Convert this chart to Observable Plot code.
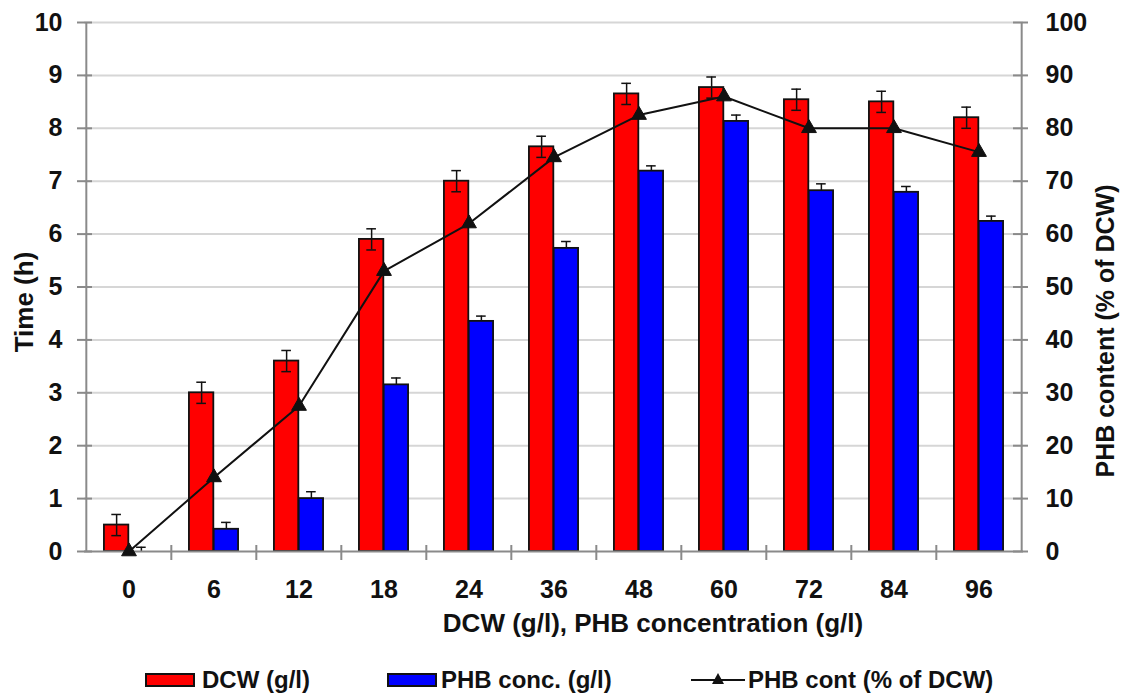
<!DOCTYPE html>
<html><head><meta charset="utf-8">
<script src="https://cdn.jsdelivr.net/npm/d3@7"></script>
<script src="https://cdn.jsdelivr.net/npm/@observablehq/plot@0.6"></script>
<style>
body{margin:0;background:#fff;font-family:"Liberation Sans",Arial,sans-serif;}
#chart svg{display:block}
#legend{position:relative;height:34px;width:1121px;font-weight:bold;font-size:24px;color:#111}
#legend .sw{position:absolute;top:13px;width:46px;height:10px;border:2px solid #111}
#legend .lb{position:absolute;top:8px;line-height:24px;white-space:nowrap}
#legend svg{position:absolute;top:9px}
</style></head><body><div id="chart"></div><div id="legend"></div>
<script>
const categories = ["0","6","12","18","24","36","48","60","72","84","96"];
const dcw        = [0.5, 3.0, 3.6, 5.9, 7.0, 7.65, 8.65, 8.77, 8.54, 8.5, 8.2];
const dcwErr     = [0.2, 0.2, 0.2, 0.2, 0.2, 0.2, 0.2, 0.2, 0.2, 0.2, 0.2];
const phb        = [0, 0.42, 1.0, 3.15, 4.35, 5.73, 7.19, 8.13, 6.82, 6.79, 6.24];
const phbErr     = [0.08, 0.13, 0.13, 0.13, 0.1, 0.13, 0.1, 0.12, 0.13, 0.11, 0.1];
const phbContent = [0, 14, 27.5, 53, 62, 74.5, 82.5, 86, 80, 80, 75.5];
const leftTicks  = [0,1,2,3,4,5,6,7,8,9,10];
const rightTicks = [0,10,20,30,40,50,60,70,80,90,100];
const legendLabels = ["DCW (g/l)", "PHB conc. (g/l)", "PHB cont (% of DCW)"];
const xTitle = "DCW (g/l), PHB concentration (g/l)";
const yTitle = "Time (h)";
const y2Title = "PHB content (% of DCW)";

const rows = categories.map((c,i)=>({cat:c, dcw:dcw[i], dcwErr:dcwErr[i], phb:phb[i], phbErr:phbErr[i], pct:phbContent[i]}));

const W=1121, H=660, mL=84, mR=98, mT=22, mB=109;
const plotW = W-mL-mR, plotH = H-mT-mB;
const bw = plotW/categories.length;
const gray = "#8a8a8a";
const red = "#ff0000", blue = "#0000ff";
const capHalf = 5;

const chart = Plot.plot({
  width: W, height: H,
  marginLeft: mL, marginRight: mR, marginTop: mT, marginBottom: mB,
  style: {fontFamily: "Liberation Sans, Arial, sans-serif", fontSize: "25px", fontWeight: "bold", color: "#111", background: "#fff"},
  x: {type: "band", domain: categories, padding: 0, label: null},
  y: {domain: [0, 10], label: null},
  marks: [
    Plot.ruleY(leftTicks.slice(1), {stroke: "#d6d6d6", strokeWidth: 2}),
    Plot.barY(rows, {x: "cat", y: "dcw", fill: red, stroke: "#111", strokeWidth: 1.8, insetLeft: bw*0.21, insetRight: bw*0.5}),
    Plot.barY(rows.filter(d=>d.phb>0), {x: "cat", y: "phb", fill: blue, stroke: "#111", strokeWidth: 1.8, insetLeft: bw*0.5, insetRight: bw*0.21}),
    // error bars DCW
    Plot.ruleX(rows, {x: "cat", y1: d=>d.dcw-d.dcwErr, y2: d=>d.dcw+d.dcwErr, dx: -bw*0.145, stroke: "#111", strokeWidth: 1.5}),
    Plot.tickY(rows, {x: "cat", y: d=>d.dcw+d.dcwErr, insetLeft: bw*0.355-capHalf, insetRight: bw*0.645-capHalf, stroke: "#111", strokeWidth: 1.5}),
    Plot.tickY(rows, {x: "cat", y: d=>d.dcw-d.dcwErr, insetLeft: bw*0.355-capHalf, insetRight: bw*0.645-capHalf, stroke: "#111", strokeWidth: 1.5}),
    // error bars PHB (upper)
    Plot.ruleX(rows, {x: "cat", y1: "phb", y2: d=>d.phb+d.phbErr, dx: bw*0.145, stroke: "#111", strokeWidth: 1.5}),
    Plot.tickY(rows, {x: "cat", y: d=>d.phb+d.phbErr, insetLeft: bw*0.645-capHalf, insetRight: bw*0.355-capHalf, stroke: "#111", strokeWidth: 1.5}),
    // axes lines
    Plot.ruleY([0], {stroke: gray, strokeWidth: 2}),
    Plot.ruleX([categories[0]], {dx: -bw/2, stroke: gray, strokeWidth: 2}),
    Plot.ruleX([categories[categories.length-1]], {dx: bw/2, stroke: gray, strokeWidth: 2}),
    Plot.tickY(leftTicks, {y: d=>d, insetLeft: -7, insetRight: plotW-8, stroke: gray, strokeWidth: 2}),
    Plot.tickY(leftTicks, {y: d=>d, insetLeft: plotW-10, insetRight: -5, stroke: gray, strokeWidth: 2}),
    Plot.tickX(categories.slice(1), {x: d=>d, dx: -bw/2, insetTop: plotH-6, insetBottom: -9, stroke: gray, strokeWidth: 2}),
    Plot.axisY(leftTicks, {anchor: "left", tickSize: 0, tickPadding: 22, label: null, tickFormat: d=>String(d)}),
    Plot.axisY(leftTicks, {anchor: "right", tickSize: 0, tickPadding: 22, label: null, tickFormat: (d,i)=>String(rightTicks[i])}),
    Plot.axisX({tickSize: 0, tickPadding: 29, label: null}),
    // line
    Plot.line(rows, {x: "cat", y: d=>d.pct/10, stroke: "#111", strokeWidth: 2}),
    Plot.dot(rows, {x: "cat", y: d=>d.pct/10, symbol: "triangle", r: 5.5, fill: "#111", stroke: "#111", strokeWidth: 1}),
    // titles
    Plot.text([yTitle], {text: d=>d, frameAnchor: "left", textAnchor: "middle", lineAnchor: "middle", rotate: -90, dx: -60, dy: 15, fontSize: 26}),
    Plot.text([y2Title], {text: d=>d, frameAnchor: "right", textAnchor: "middle", lineAnchor: "middle", rotate: -90, dx: 82, dy: 44, fontSize: 25}),
    Plot.text([xTitle], {text: d=>d, frameAnchor: "bottom", textAnchor: "middle", dx: 99, dy: 80, fontSize: 26})
  ]
});
document.getElementById("chart").appendChild(chart);

// legend
const lg = document.getElementById("legend");
lg.innerHTML = `
<div class="sw" style="left:145px;background:${red}"></div><div class="lb" style="left:202px">${legendLabels[0]}</div>
<div class="sw" style="left:387px;background:${blue}"></div><div class="lb" style="left:441px">${legendLabels[1]}</div>
<svg width="56" height="20" style="left:691px"><line x1="0" y1="11" x2="54" y2="11" stroke="#111" stroke-width="2"/><path d="M27,4 L33,15 L21,15 Z" fill="#111"/></svg>
<div class="lb" style="left:748px">${legendLabels[2]}</div>`;
</script>
</body></html>
